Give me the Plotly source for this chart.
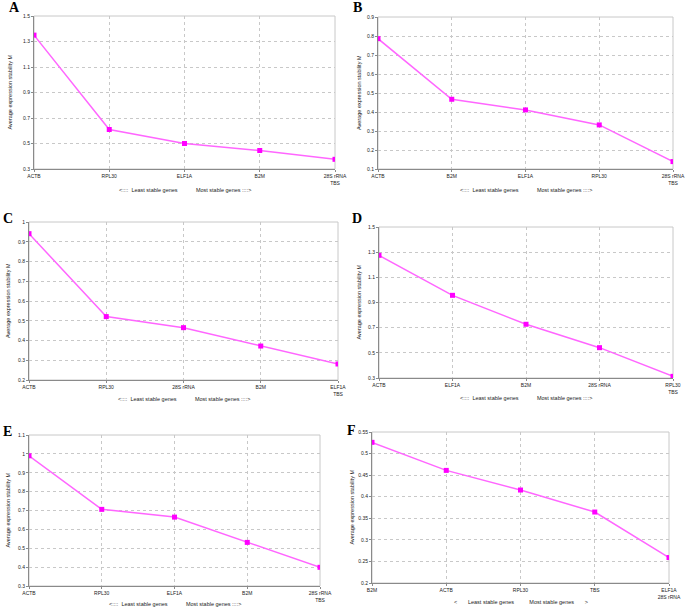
import plotly.graph_objects as go

W, H = 685, 610

# ---------------- data ----------------
cats_A = ["ACTB", "RPL30", "ELF1A", "B2M", "28S rRNA<br>TBS"]
vals_A = [1.35, 0.61, 0.50, 0.445, 0.376]

cats_B = ["ACTB", "B2M", "ELF1A", "RPL30", "28S rRNA<br>TBS"]
vals_B = [0.786, 0.467, 0.411, 0.332, 0.139]

cats_C = ["ACTB", "RPL30", "28S rRNA", "B2M", "ELF1A<br>TBS"]
vals_C = [0.941, 0.521, 0.465, 0.372, 0.281]

cats_D = ["ACTB", "ELF1A", "B2M", "28S rRNA", "RPL30<br>TBS"]
vals_D = [1.275, 0.957, 0.727, 0.541, 0.313]

cats_E = ["ACTB", "RPL30", "ELF1A", "B2M", "28S rRNA<br>TBS"]
vals_E = [0.99, 0.706, 0.665, 0.531, 0.399]

cats_F = ["B2M", "ACTB", "RPL30", "TBS", "ELF1A<br>28S rRNA"]
vals_F = [0.526, 0.461, 0.4155, 0.3645, 0.259]

YTITLE = "Average expression stability M"
XT1 = "<::::  Least stable genes            Most stable genes ::::>"
XT2 = "<       Least stable genes          Most stable genes       >"

panels = [
    # letter, cats, vals, yrange, dtick, plot box px (x0,x1,y0,y1), xtitle, letter centre, ytitle x, xtitle y
    ("A", cats_A, vals_A, [0.3, 1.5], 0.2, (34, 335, 16, 169), XT1, (14.5, 8), 9, 190),
    ("B", cats_B, vals_B, [0.1, 0.9], 0.1, (378, 673, 17, 169), XT1, (357, 8), 359, 190),
    ("C", cats_C, vals_C, [0.2, 1.0], 0.1, (29, 338, 222, 380), XT1, (8, 218), 8, 399),
    ("D", cats_D, vals_D, [0.3, 1.5], 0.2, (379, 673, 227, 378), XT1, (357, 218), 358, 398),
    ("E", cats_E, vals_E, [0.3, 1.1], 0.1, (29, 320, 435, 586), XT1, (7.5, 431), 7, 604),
    ("F", cats_F, vals_F, [0.2, 0.55], 0.05, (372, 669, 432, 583), XT2, (351.5, 430.5), 351, 602),
]


def px(v):
    return v / W


def py(v):
    return 1 - v / H


fig = go.Figure()
shapes = []
annotations = []
tickfont = dict(family="Liberation Sans", size=5, color="#222222")
titlefont = dict(family="Liberation Sans", size=5.5, color="#222222")

for i, (letter, cats, vals, yr, dt, box, xtitle, lpos, ytx, xty) in enumerate(panels):
    n = i + 1
    xa = "x" if n == 1 else f"x{n}"
    ya = "y" if n == 1 else f"y{n}"
    x0, x1, y0, y1 = box
    xd = [px(x0), px(x1)]
    yd = [py(y1), py(y0)]
    fig.add_trace(go.Scatter(
        x=list(range(len(cats))), y=vals, xaxis=xa, yaxis=ya,
        mode="lines+markers",
        line=dict(color="#ff66ff", width=1.5),
        marker=dict(symbol="square", size=5, color="#ff00ff"),
        showlegend=False, hoverinfo="skip",
    ))
    xkey = "xaxis" if n == 1 else f"xaxis{n}"
    ykey = "yaxis" if n == 1 else f"yaxis{n}"
    fig.layout[xkey] = dict(
        domain=xd, anchor=ya, range=[0, len(cats) - 1], automargin=False,
        tickmode="array", tickvals=list(range(len(cats))), ticktext=cats,
        tickfont=tickfont, showgrid=True, gridcolor="#c8c8c8", griddash="dot",
        gridwidth=1, zeroline=False, showline=True, linecolor="#8a8a8a",
        linewidth=1, ticks="outside", ticklen=2, tickcolor="#8a8a8a",
    )
    fig.layout[ykey] = dict(
        domain=yd, anchor=xa, range=yr, dtick=dt, tick0=yr[0], automargin=False,
        tickfont=tickfont, showgrid=True, gridcolor="#c8c8c8", griddash="dot",
        gridwidth=1, zeroline=False, showline=True, linecolor="#8a8a8a",
        linewidth=1, ticks="outside", ticklen=2, tickcolor="#8a8a8a",
    )
    # light border on top/right
    shapes.append(dict(type="rect", xref="paper", yref="paper",
                       x0=xd[0], x1=xd[1], y0=yd[0], y1=yd[1],
                       line=dict(color="#c8c8c8", width=1), layer="below"))
    # panel letter
    annotations.append(dict(
        text=f"<b>{letter}</b>", xref="paper", yref="paper",
        x=px(lpos[0]), y=py(lpos[1]), xanchor="center", yanchor="middle",
        showarrow=False, font=dict(family="Liberation Serif", size=14, color="#000"),
    ))
    # y title
    annotations.append(dict(
        text=YTITLE, xref="paper", yref="paper", textangle=-90,
        x=px(ytx), y=(yd[0] + yd[1]) / 2, xanchor="center", yanchor="middle",
        showarrow=False, font=titlefont,
    ))
    # x title
    annotations.append(dict(
        text=xtitle, xref="paper", yref="paper",
        x=(xd[0] + xd[1]) / 2, y=py(xty), xanchor="center", yanchor="middle",
        showarrow=False, font=titlefont,
    ))

fig.update_layout(
    width=W, height=H, margin=dict(l=0, r=0, t=0, b=0),
    paper_bgcolor="white", plot_bgcolor="white",
    shapes=shapes, annotations=annotations,
)

fig.write_html(
    "out.html",
    config={"displayModeBar": False},
    post_script="document.body.style.margin='0';document.body.style.overflow='hidden';",
)
